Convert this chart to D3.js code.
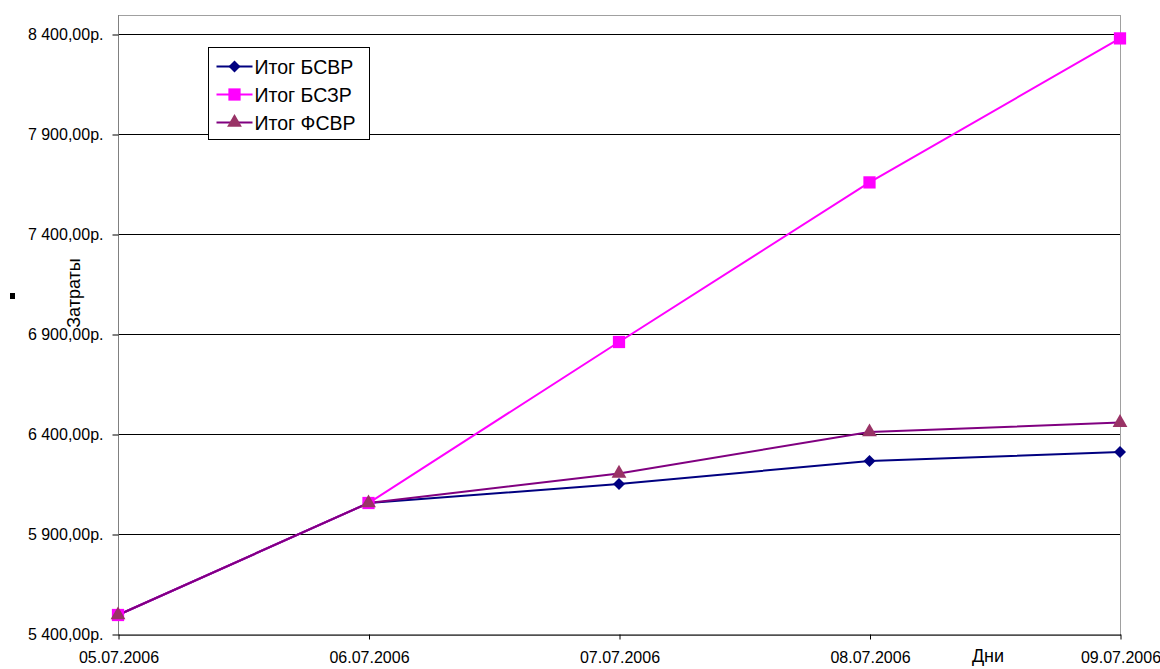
<html>
<head>
<meta charset="utf-8">
<script src="https://d3js.org/d3.v7.min.js"></script>
<style>
  body { margin: 0; background: #fff; }
  text { font-family: "Liberation Sans", Arial, sans-serif; }
</style>
</head>
<body>
<div class="display1"></div>
<script>
// data
var days = ["05.07.2006", "06.07.2006", "07.07.2006", "08.07.2006", "09.07.2006"];
var bsvr = [5500, 6060, 6155, 6270, 6315];
var bszr = [5500, 6060, 6865, 7663, 8383];
var fsvr = [5500, 6060, 6208, 6415, 6462];
var yTicks = [5400, 5900, 6400, 6900, 7400, 7900, 8400];
var seriesNames = ["Итог БСВР", "Итог БСЗР", "Итог ФСВР"];

var width = 1160, height = 669;
var plotL = 118, plotR = 1120, plotT = 15, plotB = 635;

var svg = d3.select('.display1').append('svg').attr('width', width).attr('height', height);

var x = d3.scalePoint().domain(days).range([plotL, plotR]);
var y = d3.scaleLinear().domain([5400, 8500]).range([plotB, plotT]);

function fmt(v) {
  var s = String(v);
  return s.slice(0, s.length - 3) + ' ' + s.slice(-3) + ',00р.';
}

// square-ish diamond like excel's marker
var excelDiamond = {
  draw: function(ctx, size) {
    var r = Math.sqrt(size / 2);
    ctx.moveTo(0, -r); ctx.lineTo(r, 0); ctx.lineTo(0, r); ctx.lineTo(-r, 0); ctx.closePath();
  }
};

// plot border
svg.append('rect').attr('x', plotL + 0.5).attr('y', plotT + 0.5).attr('width', plotR - plotL).attr('height', plotB - plotT)
  .attr('fill', 'none').attr('stroke', '#a0a0a0').attr('stroke-width', 1);

// gridlines
svg.selectAll('.grid').data(yTicks.slice(1)).join('line')
  .attr('x1', plotL).attr('x2', plotR)
  .attr('y1', function(d) { return Math.round(y(d)) - 0.5; })
  .attr('y2', function(d) { return Math.round(y(d)) - 0.5; })
  .attr('stroke', '#000').attr('stroke-width', 1);

// y axis
var yAxis = svg.append('g').attr('transform', 'translate(' + (plotL + 0.5) + ',-0.5)')
  .call(d3.axisLeft(y).tickValues(yTicks).tickFormat(fmt).tickSize(6).tickSizeOuter(0));
yAxis.select('.domain').attr('stroke', '#808080').attr('d', 'M0,' + (plotT + 0.5) + 'V' + (plotB + 0.5));
yAxis.selectAll('.tick line').attr('stroke', '#000');
yAxis.selectAll('.tick text').attr('font-size', 16).attr('fill', '#000').attr('x', -15)
  .attr('font-family', '"Liberation Sans", Arial, sans-serif');

// x axis
var xAxis = svg.append('g').attr('transform', 'translate(0.5,' + (plotB - 0.5) + ')')
  .call(d3.axisBottom(x).tickSize(5).tickSizeOuter(0));
xAxis.select('.domain').attr('stroke', '#000');
xAxis.selectAll('.tick line').attr('stroke', '#000');
xAxis.selectAll('.tick text').attr('font-size', 16).attr('fill', '#000').attr('y', 17)
  .attr('font-family', '"Liberation Sans", Arial, sans-serif');

// axis titles
svg.append('text').attr('transform', 'translate(80,293) rotate(-90)').attr('text-anchor', 'middle')
  .attr('font-size', 18).text('Затраты');
svg.append('text').attr('x', 988).attr('y', 662).attr('text-anchor', 'middle')
  .attr('font-size', 18).text('Дни');
svg.append('rect').attr('x', 10).attr('y', 293).attr('width', 5).attr('height', 6).attr('fill', '#000');

var series = [
  {name: seriesNames[0], values: bsvr, line: '#000080', fill: '#000080', shape: excelDiamond, size: 72},
  {name: seriesNames[1], values: bszr, line: '#ff00ff', fill: '#ff00ff', shape: d3.symbolSquare, size: 150},
  {name: seriesNames[2], values: fsvr, line: '#800080', fill: '#993366', shape: d3.symbolTriangle, size: 95}
];

var line = d3.line().x(function(d, i) { return x(days[i]); }).y(function(d) { return y(d); });

series.forEach(function(s) {
  svg.append('path').attr('d', line(s.values)).attr('fill', 'none')
    .attr('stroke', s.line).attr('stroke-width', 2);
});
series.forEach(function(s) {
  svg.selectAll(null).data(s.values).join('path')
    .attr('d', d3.symbol().type(s.shape).size(s.size))
    .attr('transform', function(d, i) { return 'translate(' + x(days[i]) + ',' + y(d) + ')'; })
    .attr('fill', s.fill);
});

// legend
var lg = svg.append('g').attr('transform', 'translate(208.5,47.5)');
lg.append('rect').attr('width', 161).attr('height', 92).attr('fill', '#fff').attr('stroke', '#000');
series.forEach(function(s, i) {
  var yy = 19 + i * 28;
  lg.append('line').attr('x1', 8).attr('x2', 44).attr('y1', yy).attr('y2', yy)
    .attr('stroke', s.line).attr('stroke-width', 2);
  lg.append('path').attr('d', d3.symbol().type(s.shape).size(s.size)).attr('fill', s.fill)
    .attr('transform', 'translate(26,' + yy + ')');
  lg.append('text').attr('x', 46).attr('y', yy + 7).attr('font-size', 19.5).text(s.name);
});
</script>
</body>
</html>
